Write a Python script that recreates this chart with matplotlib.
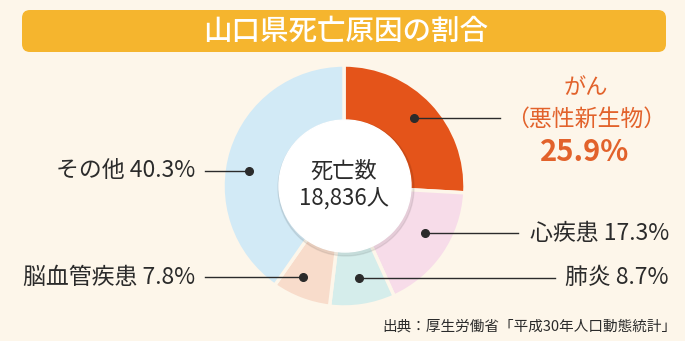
import matplotlib.pyplot as plt
import numpy as np
from matplotlib.patches import FancyBboxPatch, Circle

plt.rcParams['font.family'] = ['Noto Sans CJK JP', 'DejaVu Sans']

# data
causes = ['がん', '心疾患', '肺炎', '脳血管疾患', 'その他']
shares = [25.9, 17.3, 8.7, 7.8, 40.3]
colors = ['#E4541A', '#F7DCE9', '#D5EDEB', '#F8DCCB', '#D2EAF6']
total_deaths = 18836
title = '山口県死亡原因の割合'
source = '出典：厚生労働省「平成30年人口動態統計」'

bg = '#FDF6EA'
ink = '#2B2B2B'
accent = '#E2622B'

fig = plt.figure(figsize=(6.85, 3.41), dpi=100, facecolor=bg)
ax = fig.add_axes([0, 0, 1, 1])
ax.set_facecolor(bg)

# pie in pixel-like coordinates (y grows downward)
cx, cy, R = 344, 186, 121
ax.pie(shares, colors=colors, center=(cx, cy), radius=R,
       startangle=-90, counterclock=True,
       wedgeprops=dict(edgecolor=bg, linewidth=2.5))
ax.set_xlim(0, 685)
ax.set_ylim(341, 0)
ax.set_aspect('equal')
ax.axis('off')

# white centre with soft shadow
ax.add_patch(Circle((cx + 2, cy + 2), 68, color='#000000', alpha=0.07, zorder=3))
ax.add_patch(Circle((cx + 1, cy), 66, color='white', zorder=4))
ax.text(cx, cy - 15, '死亡数', ha='center', va='center', fontsize=16, color=ink, zorder=5)
ax.text(cx, cy + 13, f'{total_deaths:,}人', ha='center', va='center', fontsize=16,
        color=ink, zorder=5)

# leader dots and lines: (angle on screen, radius, line end x, label x)
leaders = [
    (44, 98, 500, None),
    (-30, 94, 518, 669),
    (-81, 93, 555, 669),
    (-114, 100, 205, 195),
    (171, 96, 205, 195),
]
for cause, share, (ang, r, x_end, x_lab) in zip(causes, shares, leaders):
    dx = cx + r * np.cos(np.radians(ang))
    dy = cy - r * np.sin(np.radians(ang))
    ax.plot([dx, x_end], [dy, dy], color=ink, lw=1, zorder=6)
    ax.plot(dx, dy, 'o', color=ink, ms=5.5, zorder=7)
    if x_lab is not None:
        ax.text(x_lab, dy, f'{cause} {share}%', ha='right', va='center',
                fontsize=16.5, color=ink)

# cancer callout
ax.text(586, 88, causes[0], ha='center', va='center', fontsize=16, color=accent)
ax.text(586, 119, '（悪性新生物）', ha='center', va='center', fontsize=16.5, color=accent)
ax.text(585, 152, f'{shares[0]}%', ha='center', va='center', fontsize=21,
        fontweight='bold', color=accent)

# title bar
ax.add_patch(FancyBboxPatch((22, 10), 644, 42, boxstyle='round,pad=0,rounding_size=8',
                            facecolor='#F5B52E', edgecolor='none', zorder=2))
ax.text(346, 31, title, ha='center', va='center', fontsize=20.5, color='white',
        fontweight='medium', zorder=3)

ax.text(676, 327, source, ha='right', va='center', fontsize=10.5, color=ink)

fig.savefig('out.png', dpi=100, facecolor=bg)
